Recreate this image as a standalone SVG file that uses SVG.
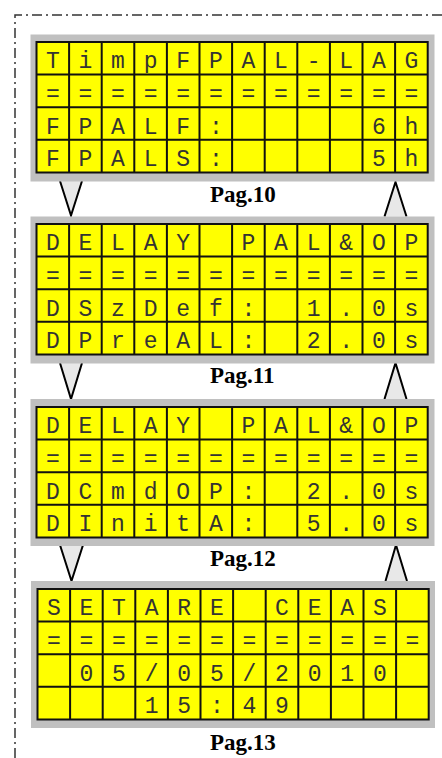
<svg xmlns="http://www.w3.org/2000/svg" xmlns:xlink="http://www.w3.org/1999/xlink" width="442" height="758" viewBox="0 0 442 758">
<style>
.frame{fill:none;stroke:#333;stroke-width:1.5;stroke-dasharray:10 4 2 4}
.panel{fill:#c0c0c0}
.lcd{fill:#ffff00}
.gl{fill:none;stroke:#111;stroke-width:2}
.ch{font-family:"Liberation Mono","Courier New",monospace;font-size:23px;fill:#333;text-anchor:middle}
.lbl{font-family:"Liberation Serif","Times New Roman",serif;font-size:23px;font-weight:bold;fill:#000}
.arr{fill:#e8e8e8;stroke:none}
.arl{fill:none;stroke:#000;stroke-width:2;stroke-linejoin:miter}
</style>
<defs>
<g id="grid">
<rect class="lcd" x="0" y="0" width="391.2" height="130.4"/>
<path class="gl" d="M0,0H391.2V130.4H0Z M32.6,0V130.4 M65.2,0V130.4 M97.8,0V130.4 M130.4,0V130.4 M163,0V130.4 M195.6,0V130.4 M228.2,0V130.4 M260.8,0V130.4 M293.4,0V130.4 M326,0V130.4 M358.6,0V130.4 M0,32.6H391.2 M0,65.2H391.2 M0,97.8H391.2"/>
</g>
</defs>
<path class="frame" d="M15,758V15H442"/>
<g id="connectors">
<polygon class="arr" points="60,181 82,181 71,215.5"/><polyline class="arl" points="60,181 71,215.5 82,181"/>
<polygon class="arr" points="384.5,216.5 406.5,216.5 395.5,182"/><polyline class="arl" points="384.5,216.5 395.5,182 406.5,216.5"/>
<polygon class="arr" points="60,363 82,363 71,399"/><polyline class="arl" points="60,363 71,399 82,363"/>
<polygon class="arr" points="384.5,399 406.5,399 395.5,363"/><polyline class="arl" points="384.5,399 395.5,363 406.5,399"/>
<polygon class="arr" points="60,545 83,545 71.5,581"/><polyline class="arl" points="60,545 83,545 71.5,581 60,545"/>
<polygon class="arr" points="385.5,581 407,581 396,545"/><polyline class="arl" points="385.5,581 396,545 407,581"/>
</g>
<g id="pag10">
<rect class="panel" x="30.5" y="34.5" width="404" height="147"/>
<g transform="translate(36.5,42)">
<use xlink:href="#grid"/>
<text class="ch" x="16.3 48.9 81.5 114.1 146.7 179.3 211.9 244.5 277.1 309.7 342.3 374.9" y="26.3">TimpFPAL-LAG</text>
<text class="ch" x="16.3 48.9 81.5 114.1 146.7 179.3 211.9 244.5 277.1 309.7 342.3 374.9" y="58.9">============</text>
<text class="ch" x="16.3 48.9 81.5 114.1 146.7 179.3 342.3 374.9" y="91.5">FPALF:6h</text>
<text class="ch" x="16.3 48.9 81.5 114.1 146.7 179.3 342.3 374.9" y="124.1">FPALS:5h</text>
</g>
<text class="lbl" x="210" y="202">Pag.10</text>
</g>
<g id="pag11">
<rect class="panel" x="30.5" y="216.5" width="404" height="147"/>
<g transform="translate(36.5,224)">
<use xlink:href="#grid"/>
<text class="ch" x="16.3 48.9 81.5 114.1 146.7 211.9 244.5 277.1 309.7 342.3 374.9" y="26.3">DELAYPAL&amp;OP</text>
<text class="ch" x="16.3 48.9 81.5 114.1 146.7 179.3 211.9 244.5 277.1 309.7 342.3 374.9" y="58.9">============</text>
<text class="ch" x="16.3 48.9 81.5 114.1 146.7 179.3 211.9 277.1 309.7 342.3 374.9" y="91.5">DSzDef:1.0s</text>
<text class="ch" x="16.3 48.9 81.5 114.1 146.7 179.3 211.9 277.1 309.7 342.3 374.9" y="124.1">DPreAL:2.0s</text>
</g>
<text class="lbl" x="210" y="383">Pag.11</text>
</g>
<g id="pag12">
<rect class="panel" x="30.5" y="399" width="404" height="147"/>
<g transform="translate(36.5,407)">
<use xlink:href="#grid"/>
<text class="ch" x="16.3 48.9 81.5 114.1 146.7 211.9 244.5 277.1 309.7 342.3 374.9" y="26.3">DELAYPAL&amp;OP</text>
<text class="ch" x="16.3 48.9 81.5 114.1 146.7 179.3 211.9 244.5 277.1 309.7 342.3 374.9" y="58.9">============</text>
<text class="ch" x="16.3 48.9 81.5 114.1 146.7 179.3 211.9 277.1 309.7 342.3 374.9" y="91.5">DCmdOP:2.0s</text>
<text class="ch" x="16.3 48.9 81.5 114.1 146.7 179.3 211.9 277.1 309.7 342.3 374.9" y="124.1">DInitA:5.0s</text>
</g>
<text class="lbl" x="210" y="566">Pag.12</text>
</g>
<g id="pag13">
<rect class="panel" x="31" y="581" width="404" height="147"/>
<g transform="translate(37.5,589)">
<use xlink:href="#grid"/>
<text class="ch" x="16.3 48.9 81.5 114.1 146.7 179.3 244.5 277.1 309.7 342.3" y="26.3">SETARECEAS</text>
<text class="ch" x="16.3 48.9 81.5 114.1 146.7 179.3 211.9 244.5 277.1 309.7 342.3 374.9" y="58.9">============</text>
<text class="ch" x="48.9 81.5 114.1 146.7 179.3 211.9 244.5 277.1 309.7 342.3" y="91.5">05/05/2010</text>
<text class="ch" x="114.1 146.7 179.3 211.9 244.5" y="124.1">15:49</text>
</g>
<text class="lbl" x="210" y="750">Pag.13</text>
</g>
</svg>
